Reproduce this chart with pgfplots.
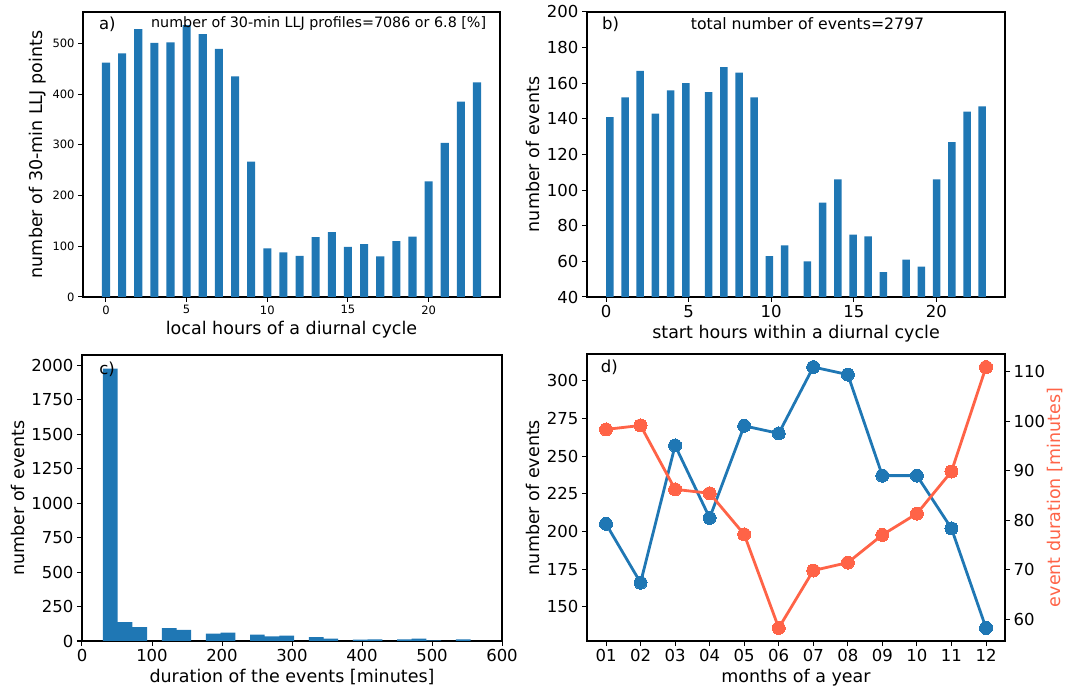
\documentclass[border=0pt]{standalone}
\usepackage{fontspec}
\setmainfont{DejaVu Sans}
\usepackage{pgfplots}
\pgfplotsset{compat=1.18}
\definecolor{c0}{HTML}{1F77B4}
\definecolor{c1}{HTML}{FF6347}
\pgfplotsset{
  mpl/.style={
    scale only axis,
    anchor=south west,
    axis line style={line width=1.5pt, black},
    tick align=outside,
    tick pos=left,
    major tick length=5pt,
    every tick/.style={black, line width=1pt},
    tick label style={font=\fontsize{16.5}{18}\selectfont},
    label style={font=\fontsize{17.5}{20}\selectfont},
    /pgf/number format/assume math mode=true,
    /pgf/number format/1000 sep={},
    clip=true,
  }
}
\begin{document}
\begin{tikzpicture}
\useasboundingbox (0pt,0pt) rectangle (1067pt,687pt);
% ---------------- a)
\begin{axis}[mpl, at={(83pt,390pt)}, width=417pt, height=285pt,
  xmin=-1.425, xmax=24.425, ymin=0, ymax=561.75,
  xtick={0,5,10,15,20}, ytick={0,100,200,300,400,500},
  tick label style={font=\fontsize{11.5}{13}\selectfont},
  xlabel={local hours of a diurnal cycle},
  ylabel={number of 30-min LLJ points},
  ybar, bar width=0.5, bar shift=0pt]
\addplot[fill=c0, draw=none] coordinates {
(0,462) (1,480) (2,528) (3,501) (4,502) (5,536) (6,518) (7,489) (8,435) (9,267)
(10,96) (11,88) (12,81) (13,118) (14,128) (15,99) (16,104) (17,80) (18,110) (19,119)
(20,228) (21,304) (22,385) (23,423)};
\node[anchor=west, font=\fontsize{16.5}{18}\selectfont] at (rel axis cs:0.03,0.955) {a)};
\node[anchor=west, font=\fontsize{14.3}{16}\selectfont] at (rel axis cs:0.155,0.96) {number of 30-min LLJ profiles=7086 or 6.8 [\%]};
\end{axis}
% ---------------- b)
\begin{axis}[mpl, at={(587pt,390pt)}, width=418pt, height=285pt,
  xmin=-1.15, xmax=24.15, ymin=40, ymax=200,
  xtick={0,5,10,15,20}, ytick={40,60,...,200},
  xlabel={start hours within a diurnal cycle},
  ylabel={number of events},
  ybar, bar width=0.455, bar shift=0pt]
\addplot[fill=c0, draw=none] coordinates {
(0.23,141) (1.15,152) (2.07,167) (2.99,143) (3.91,156) (4.83,160)
(6.21,155) (7.13,169) (8.05,166) (8.97,152) (9.89,63) (10.81,69)
(12.19,60) (13.11,93) (14.03,106) (14.95,75) (15.87,74) (16.79,54)
(18.17,61) (19.09,57) (20.01,106) (20.93,127) (21.85,144) (22.77,147)};
\node[anchor=west, font=\fontsize{16.5}{18}\selectfont] at (rel axis cs:0.028,0.955) {b)};
\node[anchor=west, font=\fontsize{15.7}{17}\selectfont] at (rel axis cs:0.24,0.96) {total number of events=2797};
\end{axis}
% ---------------- c)
\begin{axis}[mpl, at={(82pt,46pt)}, width=420pt, height=286pt,
  xmin=0, xmax=600, ymin=0, ymax=2075,
  xtick={0,100,...,600}, ytick={0,250,...,2000},
  xlabel={duration of the events [minutes]},
  ylabel={number of events},
  ybar, bar width=21, bar shift=0pt]
\addplot[fill=c0, draw=none] coordinates {
(40.5,1976) (61.5,137) (82.5,100) (124.5,93) (145.5,81) (187.5,54) (208.5,61)
(250.5,47) (271.5,34) (292.5,39) (334.5,29) (355.5,17) (397.5,10) (418.5,12)
(460.5,12) (481.5,17) (502.5,5) (544.5,12)};
\node[anchor=west, font=\fontsize{16.5}{18}\selectfont] at (rel axis cs:0.033,0.95) {c)};
\end{axis}
% ---------------- d)
\begin{axis}[mpl, at={(587pt,46pt)}, width=418pt, height=287pt,
  xmin=-0.55, xmax=11.55, ymin=127.35, ymax=317.65,
  xtick={0,...,11}, xticklabels={01,02,03,04,05,06,07,08,09,10,11,12},
  ytick={150,175,...,300},
  xlabel={months of a year},
  ylabel={number of events}]
\addplot[c0, line width=2.8pt, mark=*, mark size=6.5pt, mark options={fill=c0, draw=c0, line width=0pt}] coordinates {
(0,205) (1,166) (2,257) (3,209) (4,270) (5,265) (6,309) (7,304) (8,237) (9,237) (10,202) (11,136)};
\node[anchor=west, font=\fontsize{16.5}{18}\selectfont] at (rel axis cs:0.025,0.955) {d)};
\end{axis}
\begin{axis}[mpl, at={(587pt,46pt)}, width=418pt, height=287pt,
  xmin=-0.55, xmax=11.55, ymin=55.565, ymax=113.535,
  axis x line=none, axis y line*=right, ytick pos=right,
  ytick={60,70,...,110},
  ylabel={event duration [minutes]},
  ylabel shift=-5pt,
  ylabel style={color=c1}]
\addplot[c1, line width=2.8pt, mark=*, mark size=6.5pt, mark options={fill=c1, draw=c1, line width=0pt}] coordinates {
(0,98.3) (1,99.1) (2,86.2) (3,85.4) (4,77.1) (5,58.2) (6,69.8) (7,71.4) (8,77.0) (9,81.3) (10,89.8) (11,110.9)};
\end{axis}
\end{tikzpicture}
\end{document}
